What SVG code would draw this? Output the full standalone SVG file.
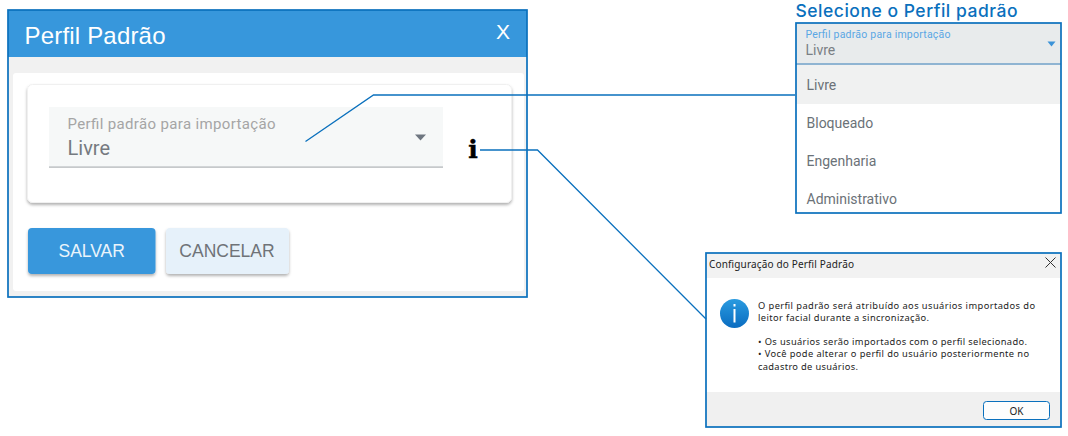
<svg xmlns="http://www.w3.org/2000/svg" width="1068" height="436" viewBox="0 0 1068 436">
<defs>
<style>
text{font-family:Roboto,"Liberation Sans",sans-serif}
.a{font-family:"Liberation Sans",Arial,sans-serif}
.frame{fill:none;stroke:#0a70bd;stroke-width:1.700}
.conn{fill:none;stroke:#0a70bd;stroke-width:1.300}
.g{fill:#6b7278}
.w{font-family:"Noto Sans","Open Sans",sans-serif;font-size:9.300px;fill:#222}
</style>
<filter id="sh" x="-5%" y="-10%" width="110%" height="125%"><feDropShadow dx="0" dy="2" stdDeviation="1.500" flood-color="#000" flood-opacity=".3"/></filter>
<linearGradient id="ig" x1="0" y1="0" x2="0" y2="1"><stop offset="0" stop-color="#2a9be0"/><stop offset="1" stop-color="#0a6cc0"/></linearGradient>
</defs>
<g id="perfil-dialog">
<rect x="8" y="10" width="519" height="287" fill="#f1f1f1"/>
<rect x="8" y="10" width="519" height="47" fill="#3797dc"/>
<rect x="13" y="73" width="511" height="218" rx="3" fill="#fff"/>
<text x="24.500" y="44" class="a" font-size="24" fill="#fff" textLength="141">Perfil Padrão</text>
<text x="496" y="39" class="a" font-size="21" fill="#fff">X</text>
<rect x="27.500" y="84.500" width="484" height="118" rx="5" fill="#fff" stroke="#f0f0f0" filter="url(#sh)"/>
<rect x="49" y="107" width="394" height="60" fill="#f6f8f8"/>
<rect x="49" y="166.500" width="394" height="1.200" fill="#aeb2b6"/>
<text x="67.500" y="129" font-size="15" fill="#a5a5a5" textLength="208">Perfil padrão para importação</text>
<text x="67.500" y="155" font-size="20" fill="#757a80">Livre</text>
<path d="M415 134.500h11l-5.500 6z" fill="#6e7680"/>
<rect x="28" y="228" width="127.500" height="46" rx="4" fill="#3797dc" filter="url(#sh)"/>
<text x="91.700" y="257" text-anchor="middle" class="a" font-size="17.500" fill="#eaf4fb">SALVAR</text>
<rect x="166" y="228" width="123" height="46" rx="4" fill="#e6f1fa" filter="url(#sh)"/>
<text x="227" y="257" text-anchor="middle" class="a" font-size="17.500" fill="#6f7378">CANCELAR</text>
<rect x="8" y="10" width="519" height="287" class="frame"/>
</g>
<g id="info-icon">
<text x="473" y="157.500" text-anchor="middle" font-size="25" font-weight="700" fill="#000" stroke="#000" stroke-width=".5" style="font-family:'DejaVu Serif',serif">i</text>
</g>
<g id="perfil-dropdown">
<rect x="796" y="23" width="265" height="190" fill="#fff"/>
<rect x="796" y="23" width="265" height="41" fill="#e8ebec"/>
<rect x="796" y="65" width="265" height="39" fill="#f0f1f1"/>
<rect x="796" y="63" width="265" height="2" fill="#8fb4d2"/>
<text x="795.500" y="16.500" font-size="17.500" font-weight="500" fill="#0a70bd" textLength="222" style="font-family:Inter,'Open Sans',sans-serif">Selecione o Perfil padrão</text>
<text x="805.500" y="38" font-size="10.500" fill="#5aa7e4" textLength="145">Perfil padrão para importação</text>
<text x="805.500" y="55" font-size="14" fill="#7a7f84">Livre</text>
<path d="M1047.500 41.500h8l-4 5z" fill="#3b93d8"/>
<text x="806.500" y="90" font-size="14" class="g">Livre</text>
<text x="806.500" y="128" font-size="14" class="g">Bloqueado</text>
<text x="806.500" y="166" font-size="14" class="g">Engenharia</text>
<text x="806.500" y="204" font-size="14" class="g">Administrativo</text>
<rect x="796" y="23" width="265" height="190" class="frame"/>
</g>
<g id="config-dialog">
<rect x="706" y="253" width="355" height="174" fill="#fff"/>
<rect x="706" y="253" width="355" height="25" fill="#f2f2f2"/>
<rect x="706" y="392" width="355" height="35" fill="#f0f0f0"/>
<text x="709" y="267.500" class="w" textLength="145" style="font-size:10px">Configuração do Perfil Padrão</text>
<path d="M1045.500 257.500l10 10m0-10l-10 10" stroke="#333" fill="none"/>
<circle cx="734.500" cy="313.500" r="14.500" fill="url(#ig)"/>
<rect x="733.500" y="304" width="2" height="2.500" fill="#fff"/>
<rect x="733.500" y="309" width="2" height="13.500" fill="#fff"/>
<text x="758" y="308.500" class="w" textLength="277">O perfil padrão será atribuído aos usuários importados do</text>
<text x="758" y="321" class="w" textLength="171">leitor facial durante a sincronização.</text>
<text x="758" y="345" class="w" textLength="269">• Os usuários serão importados com o perfil selecionado.</text>
<text x="758" y="357" class="w" textLength="271">• Você pode alterar o perfil do usuário posteriormente no</text>
<text x="758" y="369.500" class="w" textLength="100">cadastro de usuários.</text>
<rect x="983.500" y="401.500" width="66" height="18" rx="3" fill="#fdfdfd" stroke="#0a70bd"/>
<text x="1016.500" y="414.500" text-anchor="middle" class="w" style="font-size:10px">OK</text>
<rect x="706" y="253" width="355" height="174" class="frame"/>
</g>
<g id="connectors">
<path class="conn" d="M305.500 141.500L373.500 95H795"/>
<path class="conn" d="M480 150H537.500L706 319"/>
</g>
</svg>
